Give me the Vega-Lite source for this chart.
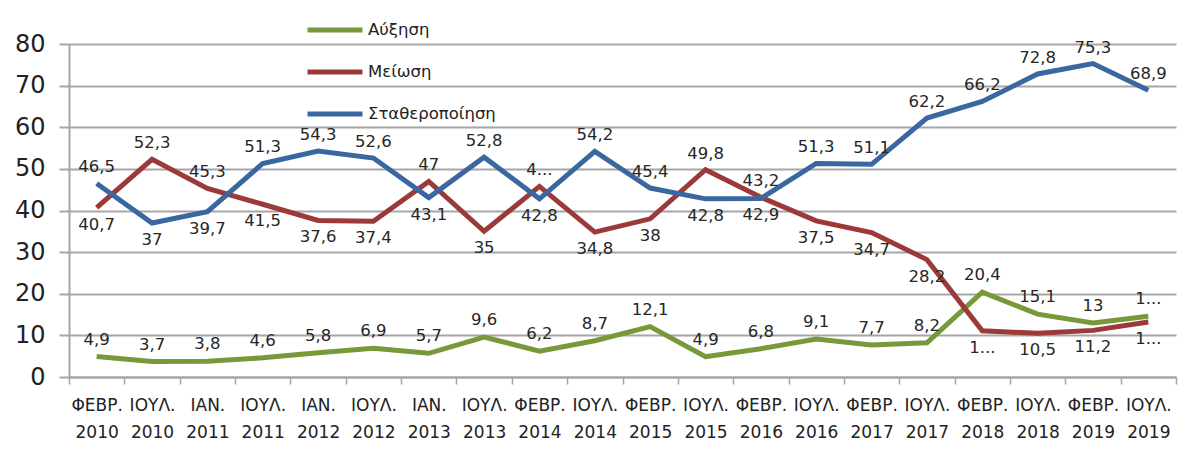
{
  "$schema": "https://vega.github.io/schema/vega-lite/v6.json",
  "width": 1107,
  "height": 333,
  "autosize": {"type": "none"},
  "padding": {"left": 69, "top": 44, "right": 3, "bottom": 81},
  "background": "white",
  "config": {"font": "DejaVu Sans", "view": {"stroke": null}},
  "data": {"values": [
    {"period": "ΦΕΒΡ. 2010", "series": "Αύξηση", "value": 4.9, "label": "4,9"},
    {"period": "ΙΟΥΛ. 2010", "series": "Αύξηση", "value": 3.7, "label": "3,7"},
    {"period": "ΙΑΝ. 2011", "series": "Αύξηση", "value": 3.8, "label": "3,8"},
    {"period": "ΙΟΥΛ. 2011", "series": "Αύξηση", "value": 4.6, "label": "4,6"},
    {"period": "ΙΑΝ. 2012", "series": "Αύξηση", "value": 5.8, "label": "5,8"},
    {"period": "ΙΟΥΛ. 2012", "series": "Αύξηση", "value": 6.9, "label": "6,9"},
    {"period": "ΙΑΝ. 2013", "series": "Αύξηση", "value": 5.7, "label": "5,7"},
    {"period": "ΙΟΥΛ. 2013", "series": "Αύξηση", "value": 9.6, "label": "9,6"},
    {"period": "ΦΕΒΡ. 2014", "series": "Αύξηση", "value": 6.2, "label": "6,2"},
    {"period": "ΙΟΥΛ. 2014", "series": "Αύξηση", "value": 8.7, "label": "8,7"},
    {"period": "ΦΕΒΡ. 2015", "series": "Αύξηση", "value": 12.1, "label": "12,1"},
    {"period": "ΙΟΥΛ. 2015", "series": "Αύξηση", "value": 4.9, "label": "4,9"},
    {"period": "ΦΕΒΡ. 2016", "series": "Αύξηση", "value": 6.8, "label": "6,8"},
    {"period": "ΙΟΥΛ. 2016", "series": "Αύξηση", "value": 9.1, "label": "9,1"},
    {"period": "ΦΕΒΡ. 2017", "series": "Αύξηση", "value": 7.7, "label": "7,7"},
    {"period": "ΙΟΥΛ. 2017", "series": "Αύξηση", "value": 8.2, "label": "8,2"},
    {"period": "ΦΕΒΡ. 2018", "series": "Αύξηση", "value": 20.4, "label": "20,4"},
    {"period": "ΙΟΥΛ. 2018", "series": "Αύξηση", "value": 15.1, "label": "15,1"},
    {"period": "ΦΕΒΡ. 2019", "series": "Αύξηση", "value": 13, "label": "13"},
    {"period": "ΙΟΥΛ. 2019", "series": "Αύξηση", "value": 14.6, "label": "1..."},
    {"period": "ΦΕΒΡ. 2010", "series": "Μείωση", "value": 40.7, "label": "40,7"},
    {"period": "ΙΟΥΛ. 2010", "series": "Μείωση", "value": 52.3, "label": "52,3"},
    {"period": "ΙΑΝ. 2011", "series": "Μείωση", "value": 45.3, "label": "45,3"},
    {"period": "ΙΟΥΛ. 2011", "series": "Μείωση", "value": 41.5, "label": "41,5"},
    {"period": "ΙΑΝ. 2012", "series": "Μείωση", "value": 37.6, "label": "37,6"},
    {"period": "ΙΟΥΛ. 2012", "series": "Μείωση", "value": 37.4, "label": "37,4"},
    {"period": "ΙΑΝ. 2013", "series": "Μείωση", "value": 47, "label": "47"},
    {"period": "ΙΟΥΛ. 2013", "series": "Μείωση", "value": 35, "label": "35"},
    {"period": "ΦΕΒΡ. 2014", "series": "Μείωση", "value": 45.8, "label": "4..."},
    {"period": "ΙΟΥΛ. 2014", "series": "Μείωση", "value": 34.8, "label": "34,8"},
    {"period": "ΦΕΒΡ. 2015", "series": "Μείωση", "value": 38, "label": "38"},
    {"period": "ΙΟΥΛ. 2015", "series": "Μείωση", "value": 49.8, "label": "49,8"},
    {"period": "ΦΕΒΡ. 2016", "series": "Μείωση", "value": 43.2, "label": "43,2"},
    {"period": "ΙΟΥΛ. 2016", "series": "Μείωση", "value": 37.5, "label": "37,5"},
    {"period": "ΦΕΒΡ. 2017", "series": "Μείωση", "value": 34.7, "label": "34,7"},
    {"period": "ΙΟΥΛ. 2017", "series": "Μείωση", "value": 28.2, "label": "28,2"},
    {"period": "ΦΕΒΡ. 2018", "series": "Μείωση", "value": 11.1, "label": "1..."},
    {"period": "ΙΟΥΛ. 2018", "series": "Μείωση", "value": 10.5, "label": "10,5"},
    {"period": "ΦΕΒΡ. 2019", "series": "Μείωση", "value": 11.2, "label": "11,2"},
    {"period": "ΙΟΥΛ. 2019", "series": "Μείωση", "value": 13.2, "label": "1..."},
    {"period": "ΦΕΒΡ. 2010", "series": "Σταθεροποίηση", "value": 46.5, "label": "46,5"},
    {"period": "ΙΟΥΛ. 2010", "series": "Σταθεροποίηση", "value": 37, "label": "37"},
    {"period": "ΙΑΝ. 2011", "series": "Σταθεροποίηση", "value": 39.7, "label": "39,7"},
    {"period": "ΙΟΥΛ. 2011", "series": "Σταθεροποίηση", "value": 51.3, "label": "51,3"},
    {"period": "ΙΑΝ. 2012", "series": "Σταθεροποίηση", "value": 54.3, "label": "54,3"},
    {"period": "ΙΟΥΛ. 2012", "series": "Σταθεροποίηση", "value": 52.6, "label": "52,6"},
    {"period": "ΙΑΝ. 2013", "series": "Σταθεροποίηση", "value": 43.1, "label": "43,1"},
    {"period": "ΙΟΥΛ. 2013", "series": "Σταθεροποίηση", "value": 52.8, "label": "52,8"},
    {"period": "ΦΕΒΡ. 2014", "series": "Σταθεροποίηση", "value": 42.8, "label": "42,8"},
    {"period": "ΙΟΥΛ. 2014", "series": "Σταθεροποίηση", "value": 54.2, "label": "54,2"},
    {"period": "ΦΕΒΡ. 2015", "series": "Σταθεροποίηση", "value": 45.4, "label": "45,4"},
    {"period": "ΙΟΥΛ. 2015", "series": "Σταθεροποίηση", "value": 42.8, "label": "42,8"},
    {"period": "ΦΕΒΡ. 2016", "series": "Σταθεροποίηση", "value": 42.9, "label": "42,9"},
    {"period": "ΙΟΥΛ. 2016", "series": "Σταθεροποίηση", "value": 51.3, "label": "51,3"},
    {"period": "ΦΕΒΡ. 2017", "series": "Σταθεροποίηση", "value": 51.1, "label": "51,1"},
    {"period": "ΙΟΥΛ. 2017", "series": "Σταθεροποίηση", "value": 62.2, "label": "62,2"},
    {"period": "ΦΕΒΡ. 2018", "series": "Σταθεροποίηση", "value": 66.2, "label": "66,2"},
    {"period": "ΙΟΥΛ. 2018", "series": "Σταθεροποίηση", "value": 72.8, "label": "72,8"},
    {"period": "ΦΕΒΡ. 2019", "series": "Σταθεροποίηση", "value": 75.3, "label": "75,3"},
    {"period": "ΙΟΥΛ. 2019", "series": "Σταθεροποίηση", "value": 68.9, "label": "68,9"}
  ]},
  "encoding": {
    "x": {
      "field": "period", "type": "nominal", "sort": null, "bandPosition": 0.5,
      "scale": {"type": "band", "paddingInner": 0, "paddingOuter": 0},
      "axis": {
        "title": null, "labelAngle": 0, "labelExpr": "split(datum.label, ' ')",
        "labelFontSize": 17, "labelColor": "#222", "labelLineHeight": 27,
        "labelPadding": 21, "labelOverlap": false, "labelBaseline": "middle",
        "tickBand": "extent", "tickSize": 7, "tickColor": "#a6a6a6", "tickWidth": 1.5,
        "domainColor": "#a6a6a6", "domainWidth": 2, "grid": false
      }
    },
    "y": {
      "field": "value", "type": "quantitative",
      "scale": {"domain": [0, 80]},
      "axis": {
        "title": null, "values": [0, 10, 20, 30, 40, 50, 60, 70, 80],
        "labelFontSize": 24, "labelColor": "#222", "labelPadding": 14,
        "tickSize": 10, "tickColor": "#a6a6a6", "tickWidth": 2,
        "domainColor": "#a6a6a6", "domainWidth": 2,
        "gridColor": "#a6a6a6", "gridWidth": 2
      }
    }
  },
  "layer": [
    {
      "mark": {"type": "line", "strokeWidth": 5},
      "encoding": {
        "color": {
          "field": "series", "type": "nominal",
          "scale": {"domain": ["Αύξηση", "Μείωση", "Σταθεροποίηση"], "range": ["#77993a", "#9b3a38", "#3b67a0"]},
          "legend": {
            "orient": "none", "legendX": 236, "legendY": -44, "direction": "vertical",
            "title": null, "symbolType": "stroke", "symbolStrokeWidth": 5, "symbolSize": 3025,
            "labelFontSize": 16.5, "labelColor": "#222", "rowPadding": 2, "labelOffset": 3
          }
        }
      }
    },
    {
      "transform": [{"filter": "datum.series == 'Αύξηση'"}],
      "mark": {"type": "text", "dy": -17, "fontSize": 16.5, "color": "#262626"},
      "encoding": {"text": {"field": "label"}}
    },
    {
      "transform": [
        {"filter": "datum.series != 'Αύξηση'"},
        {"joinaggregate": [{"op": "max", "field": "value", "as": "mx"}], "groupby": ["period"]},
        {"filter": "datum.value == datum.mx"}
      ],
      "mark": {"type": "text", "dy": -16, "fontSize": 16.5, "color": "#262626"},
      "encoding": {"text": {"field": "label"}}
    },
    {
      "transform": [
        {"filter": "datum.series != 'Αύξηση'"},
        {"joinaggregate": [{"op": "max", "field": "value", "as": "mx"}], "groupby": ["period"]},
        {"filter": "datum.value < datum.mx"}
      ],
      "mark": {"type": "text", "dy": 17, "fontSize": 16.5, "color": "#262626"},
      "encoding": {"text": {"field": "label"}}
    }
  ]
}
